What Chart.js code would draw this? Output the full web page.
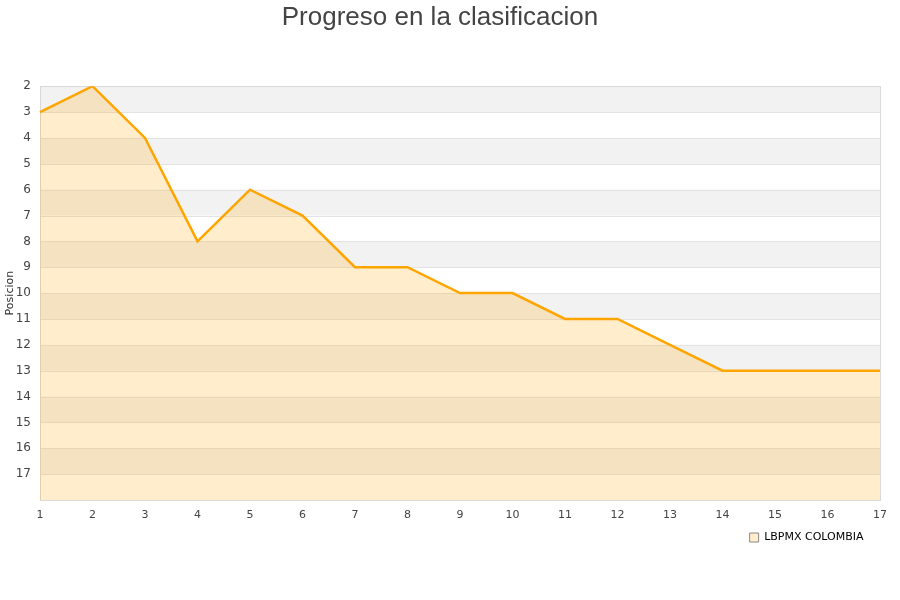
<html lang="es">

<head>
    <meta charset="UTF-8">
    <title>Progreso en la clasificacion</title>
    <script src="https://cdn.jsdelivr.net/npm/chart.js"></script>
    <style>
        body { margin: 0; background: #fff; }
    </style>
</head>

<body>
    <canvas id="myChart" width="900" height="600"></canvas>

    <script>
        // jornadas y posicion del equipo
        let jornadas = ['1', '2', '3', '4', '5', '6', '7', '8', '9', '10', '11', '12', '13', '14', '15', '16', '17'];
        let posiciones = [3, 2, 4, 8, 6, 7, 9, 9, 10, 10, 11, 11, 12, 13, 13, 13, 13];
        let equipo = 'LBPMX COLOMBIA';
        let posMin = 2;
        let posMax = 18;

        // franjas grises alternas detras de la linea
        let franjas = {
            id: 'franjas',
            beforeDatasetsDraw(chart) {
                let ctx = chart.ctx;
                let y = chart.scales.y;
                let area = chart.chartArea;
                ctx.save();
                ctx.fillStyle = '#f2f2f2';
                for (let v = posMin; v < posMax; v += 2) {
                    let y1 = y.getPixelForValue(v);
                    let y2 = y.getPixelForValue(v + 1);
                    ctx.fillRect(area.left, y1, area.right - area.left, y2 - y1);
                }
                // lineas de la rejilla encima de las franjas
                ctx.strokeStyle = '#e3e3e3';
                ctx.lineWidth = 1;
                for (let v = posMin; v <= posMax; v++) {
                    let py = Math.round(y.getPixelForValue(v)) + 0.5;
                    ctx.beginPath();
                    ctx.moveTo(area.left, py);
                    ctx.lineTo(area.right, py);
                    ctx.stroke();
                }
                // borde alrededor del area
                ctx.strokeStyle = '#d9d9d9';
                ctx.strokeRect(Math.round(area.left) + 0.5, Math.round(area.top) + 0.5,
                    Math.round(area.right - area.left), Math.round(area.bottom - area.top));
                ctx.restore();
            }
        };

        let ctx = document.getElementById("myChart").getContext("2d");
        let myChart = new Chart(ctx, {
            type: 'line',
            data: {
                labels: jornadas,
                datasets: [{
                    label: equipo,
                    data: posiciones,
                    borderColor: '#FFA500',
                    backgroundColor: 'rgba(255, 165, 0, 0.2)',
                    borderWidth: 2.5,
                    pointRadius: 0,
                    tension: 0,
                    fill: { value: posMax }
                }]
            },
            plugins: [franjas],
            options: {
                responsive: false,
                animation: false,
                layout: { padding: { left: 0, right: 20, top: 2, bottom: 47 } },
                plugins: {
                    title: {
                        display: true,
                        text: 'Progreso en la clasificacion',
                        color: '#444',
                        font: { family: 'Liberation Sans', size: 26, weight: 'normal' },
                        padding: { top: 0, bottom: 53 }
                    },
                    legend: {
                        position: 'bottom',
                        align: 'end',
                        labels: {
                            color: '#000',
                            font: { family: 'DejaVu Sans', size: 11 },
                            boxWidth: 9,
                            boxHeight: 9,
                            padding: 6,
                            generateLabels(chart) {
                                return [{
                                    text: equipo + '   ',
                                    fillStyle: 'rgba(255, 165, 0, 0.2)',
                                    strokeStyle: '#888',
                                    lineWidth: 1,
                                    datasetIndex: 0
                                }];
                            }
                        }
                    },
                    tooltip: { enabled: false }
                },
                scales: {
                    x: {
                        grid: { display: false },
                        border: { color: '#d9d9d9' },
                        ticks: {
                            color: '#444',
                            padding: 1,
                            font: { family: 'DejaVu Sans', size: 11 },
                            maxRotation: 0,
                            autoSkip: false
                        },
                        afterFit(scale) { scale.height = 26; }
                    },
                    y: {
                        reverse: true,
                        min: posMin,
                        max: posMax,
                        grid: { display: false },
                        border: { color: '#d9d9d9' },
                        ticks: {
                            stepSize: 1,
                            padding: 1,
                            color: '#444',
                            font: { family: 'DejaVu Sans', size: 12 },
                            callback: (v) => v === posMax ? '' : v
                        },
                        title: {
                            display: true,
                            text: 'Posicion',
                            color: '#333',
                            font: { family: 'DejaVu Sans', size: 11 },
                            padding: { top: 4, bottom: 0 }
                        },
                        afterFit(scale) { scale.width = 40; }
                    }
                }
            }
        });
    </script>
</body>

</html>
